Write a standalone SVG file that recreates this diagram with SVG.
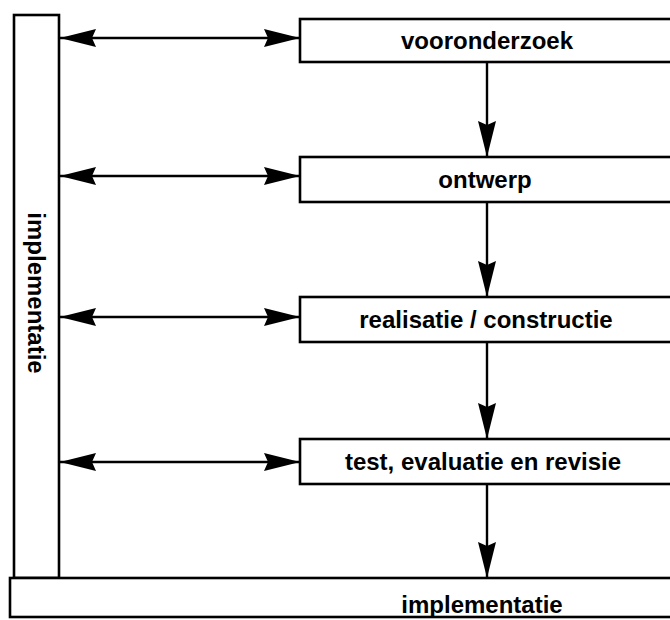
<svg xmlns="http://www.w3.org/2000/svg" width="670" height="620" viewBox="0 0 670 620">
<style>
.box{fill:#fff;stroke:#000;stroke-width:2.6}
.lbl{font-family:"Liberation Sans",Arial,sans-serif;font-weight:bold;font-size:24px;fill:#000;text-anchor:middle}
.con{stroke:#000;stroke-width:2.4;fill:none}
</style>
<defs>
<marker id="ah" viewBox="0 0 36 20" refX="36" refY="10" markerWidth="36" markerHeight="20" markerUnits="userSpaceOnUse" orient="auto-start-reverse">
<path d="M0,1 L36,10 L0,19 L4,10 z" fill="#000"/>
</marker>
</defs>
<rect width="670" height="620" fill="#fff"/>
<g id="impl-side">
<rect class="box" x="14" y="15" width="45" height="563"/>
<text class="lbl" transform="translate(28,293) rotate(90)">implementatie</text>
</g>
<g id="impl-bottom">
<rect class="box" x="10" y="578" width="672" height="39"/>
<text class="lbl" x="482" y="613">implementatie</text>
</g>
<g id="vooronderzoek">
<rect class="box" x="300" y="19" width="382" height="43"/>
<text class="lbl" x="487" y="49">vooronderzoek</text>
</g>
<g id="ontwerp">
<rect class="box" x="300" y="157" width="382" height="45"/>
<text class="lbl" x="485" y="188">ontwerp</text>
</g>
<g id="realisatie">
<rect class="box" x="300" y="297" width="382" height="45"/>
<text class="lbl" x="486" y="328">realisatie / constructie</text>
</g>
<g id="test">
<rect class="box" x="300" y="439" width="382" height="45"/>
<text class="lbl" x="483" y="470">test, evaluatie en revisie</text>
</g>
<g id="connectors">
<line class="con" x1="60" y1="38" x2="300" y2="38" marker-start="url(#ah)" marker-end="url(#ah)"/>
<line class="con" x1="60" y1="176" x2="300" y2="176" marker-start="url(#ah)" marker-end="url(#ah)"/>
<line class="con" x1="60" y1="317" x2="300" y2="317" marker-start="url(#ah)" marker-end="url(#ah)"/>
<line class="con" x1="60" y1="462" x2="300" y2="462" marker-start="url(#ah)" marker-end="url(#ah)"/>
<line class="con" x1="487" y1="63" x2="487" y2="157" marker-end="url(#ah)"/>
<line class="con" x1="487" y1="203" x2="487" y2="297" marker-end="url(#ah)"/>
<line class="con" x1="487" y1="343" x2="487" y2="439" marker-end="url(#ah)"/>
<line class="con" x1="487" y1="485" x2="487" y2="578" marker-end="url(#ah)"/>
</g>
</svg>
